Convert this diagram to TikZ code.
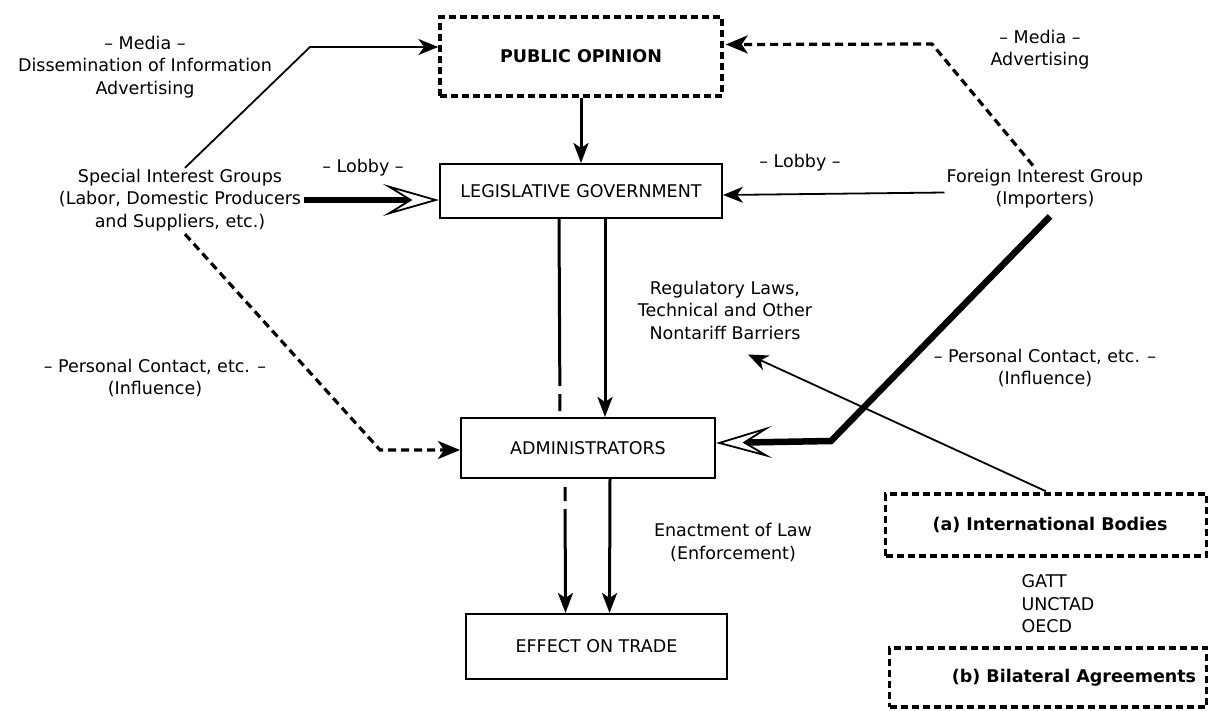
\documentclass[tikz,border=0pt]{standalone}
\usepackage{fontspec}
\setmainfont{DejaVu Sans}
\usetikzlibrary{arrows.meta,calc}
\begin{document}
\begin{tikzpicture}[x=1pt,y=-1pt,
  every node/.style={font=\fontsize{17.5}{22.5}\selectfont, align=center, inner sep=0pt},
  box/.style={draw, line width=2pt, minimum width=#1},
  dbox/.style={draw, line width=3.4pt, dash pattern=on 7pt off 4pt, minimum width=#1},
  thin/.style={line width=1.8pt, -{Stealth[length=20pt,width=16pt,inset=6pt]}},
  dline/.style={line width=3.2pt, dash pattern=on 8pt off 5pt, -{Stealth[length=22pt,width=18pt,inset=6pt]}},
  heavy/.style={line width=6.5pt, -{Stealth[open,length=56pt,width=32pt,inset=26pt,line width=1.8pt,fill=white]}},
  vline/.style={line width=3pt, -{Stealth[length=20pt,width=15pt,inset=5pt]}},
  dvline/.style={line width=3pt, dash pattern=on 167pt off 8pt on 17pt off 40pt},
  dvline2/.style={line width=3pt, dash pattern=on 14pt off 8pt on 200pt, -{Stealth[length=20pt,width=15pt,inset=5pt]}}
]
\useasboundingbox (0,0) rectangle (1208,710);
\fill[white] (0,0) rectangle (1208,710);

% boxes
\node[dbox=282pt, minimum height=79pt] (po) at (581,56.5) {\textbf{PUBLIC OPINION}};
\node[box=282pt, minimum height=54pt] (lg) at (581,191) {LEGISLATIVE GOVERNMENT};
\node[box=254pt, minimum height=60pt] (ad) at (588,448) {ADMINISTRATORS};
\node[box=261pt, minimum height=65pt] (et) at (596.5,646.5) {EFFECT ON TRADE};
\node[dbox=321pt, minimum height=62pt] (ib) at (1046,525) {\hspace*{8pt}\textbf{(a) International Bodies}};
\node[dbox=317pt, minimum height=59pt] (ba) at (1048,677.5) {\hspace*{52pt}\textbf{(b) Bilateral Agreements}};

% actors
\node (sig) at (180,200) {Special Interest Groups\\(Labor, Domestic Producers\\and Suppliers, etc.)};
\node (fig) at (1045,188.5) {Foreign Interest Group\\(Importers)};
\node (rl) at (725,310) {Regulatory Laws,\\Technical and Other\\Nontariff Barriers};

% labels
\node (lm) at (145,67) {– Media –\\Dissemination of Information\\Advertising};
\node (rm) at (1040,49.5) {– Media –\\Advertising};
\node (ll) at (363,168) {– Lobby –};
\node (rlb) at (800,163) {– Lobby –};
\node (lp) at (155,378) {– Personal Contact, etc. –\\(Influence)};
\node (rp) at (1045,368) {– Personal Contact, etc. –\\(Influence)};
\node (en) at (733,542.5) {Enactment of Law\\(Enforcement)};
\node[align=left] (org) at (1058,604) {GATT\\UNCTAD\\OECD};

% bend coordinates
\coordinate (b1) at (310,47);
\coordinate (b2) at (932,44);
\coordinate (b3) at (380,450);
\coordinate (b4) at (831,441);

% connectors
\draw[thin] ($(sig.north)+(5,-1)$) -- (b1) -- (b1 -| po.west);
\draw[dline] ($(fig.north)+(-12,-3)$) -- (b2) -- ($(po.east)+(2,-12)$);
\draw[vline] (po.south) -- (lg.north);
\draw[heavy] ($(sig.east)+(3,0)$) -- ($(lg.west)+(0,9)$);
\draw[thin] ($(fig.west)+(-2,4)$) -- ($(lg.east)+(0,4)$);
\draw[dline] ($(sig.south)+(5,3)$) -- (b3) -- (b3 -| ad.west);
\draw[heavy] ($(fig.south)+(5,8)$) -- (b4) -- ($(ad.east)+(0,-5)$);
\draw[thin] ($(ib.north)+(0,-1)$) -- ($(rl.south)+(23,15)$);
% vertical pairs
\draw[dvline] ($(lg.south)+(-22,0)$) -- ($(ad.north)+(-28,0)$);
\draw[vline] ($(lg.south)+(24,0)$) -- ($(ad.north)+(17,0)$);
\draw[dvline2] ($(ad.south)+(-23,8)$) -- ($(et.north)+(-31,0)$);
\draw[vline] ($(ad.south)+(22,0)$) -- ($(et.north)+(13,0)$);
\end{tikzpicture}
\end{document}
